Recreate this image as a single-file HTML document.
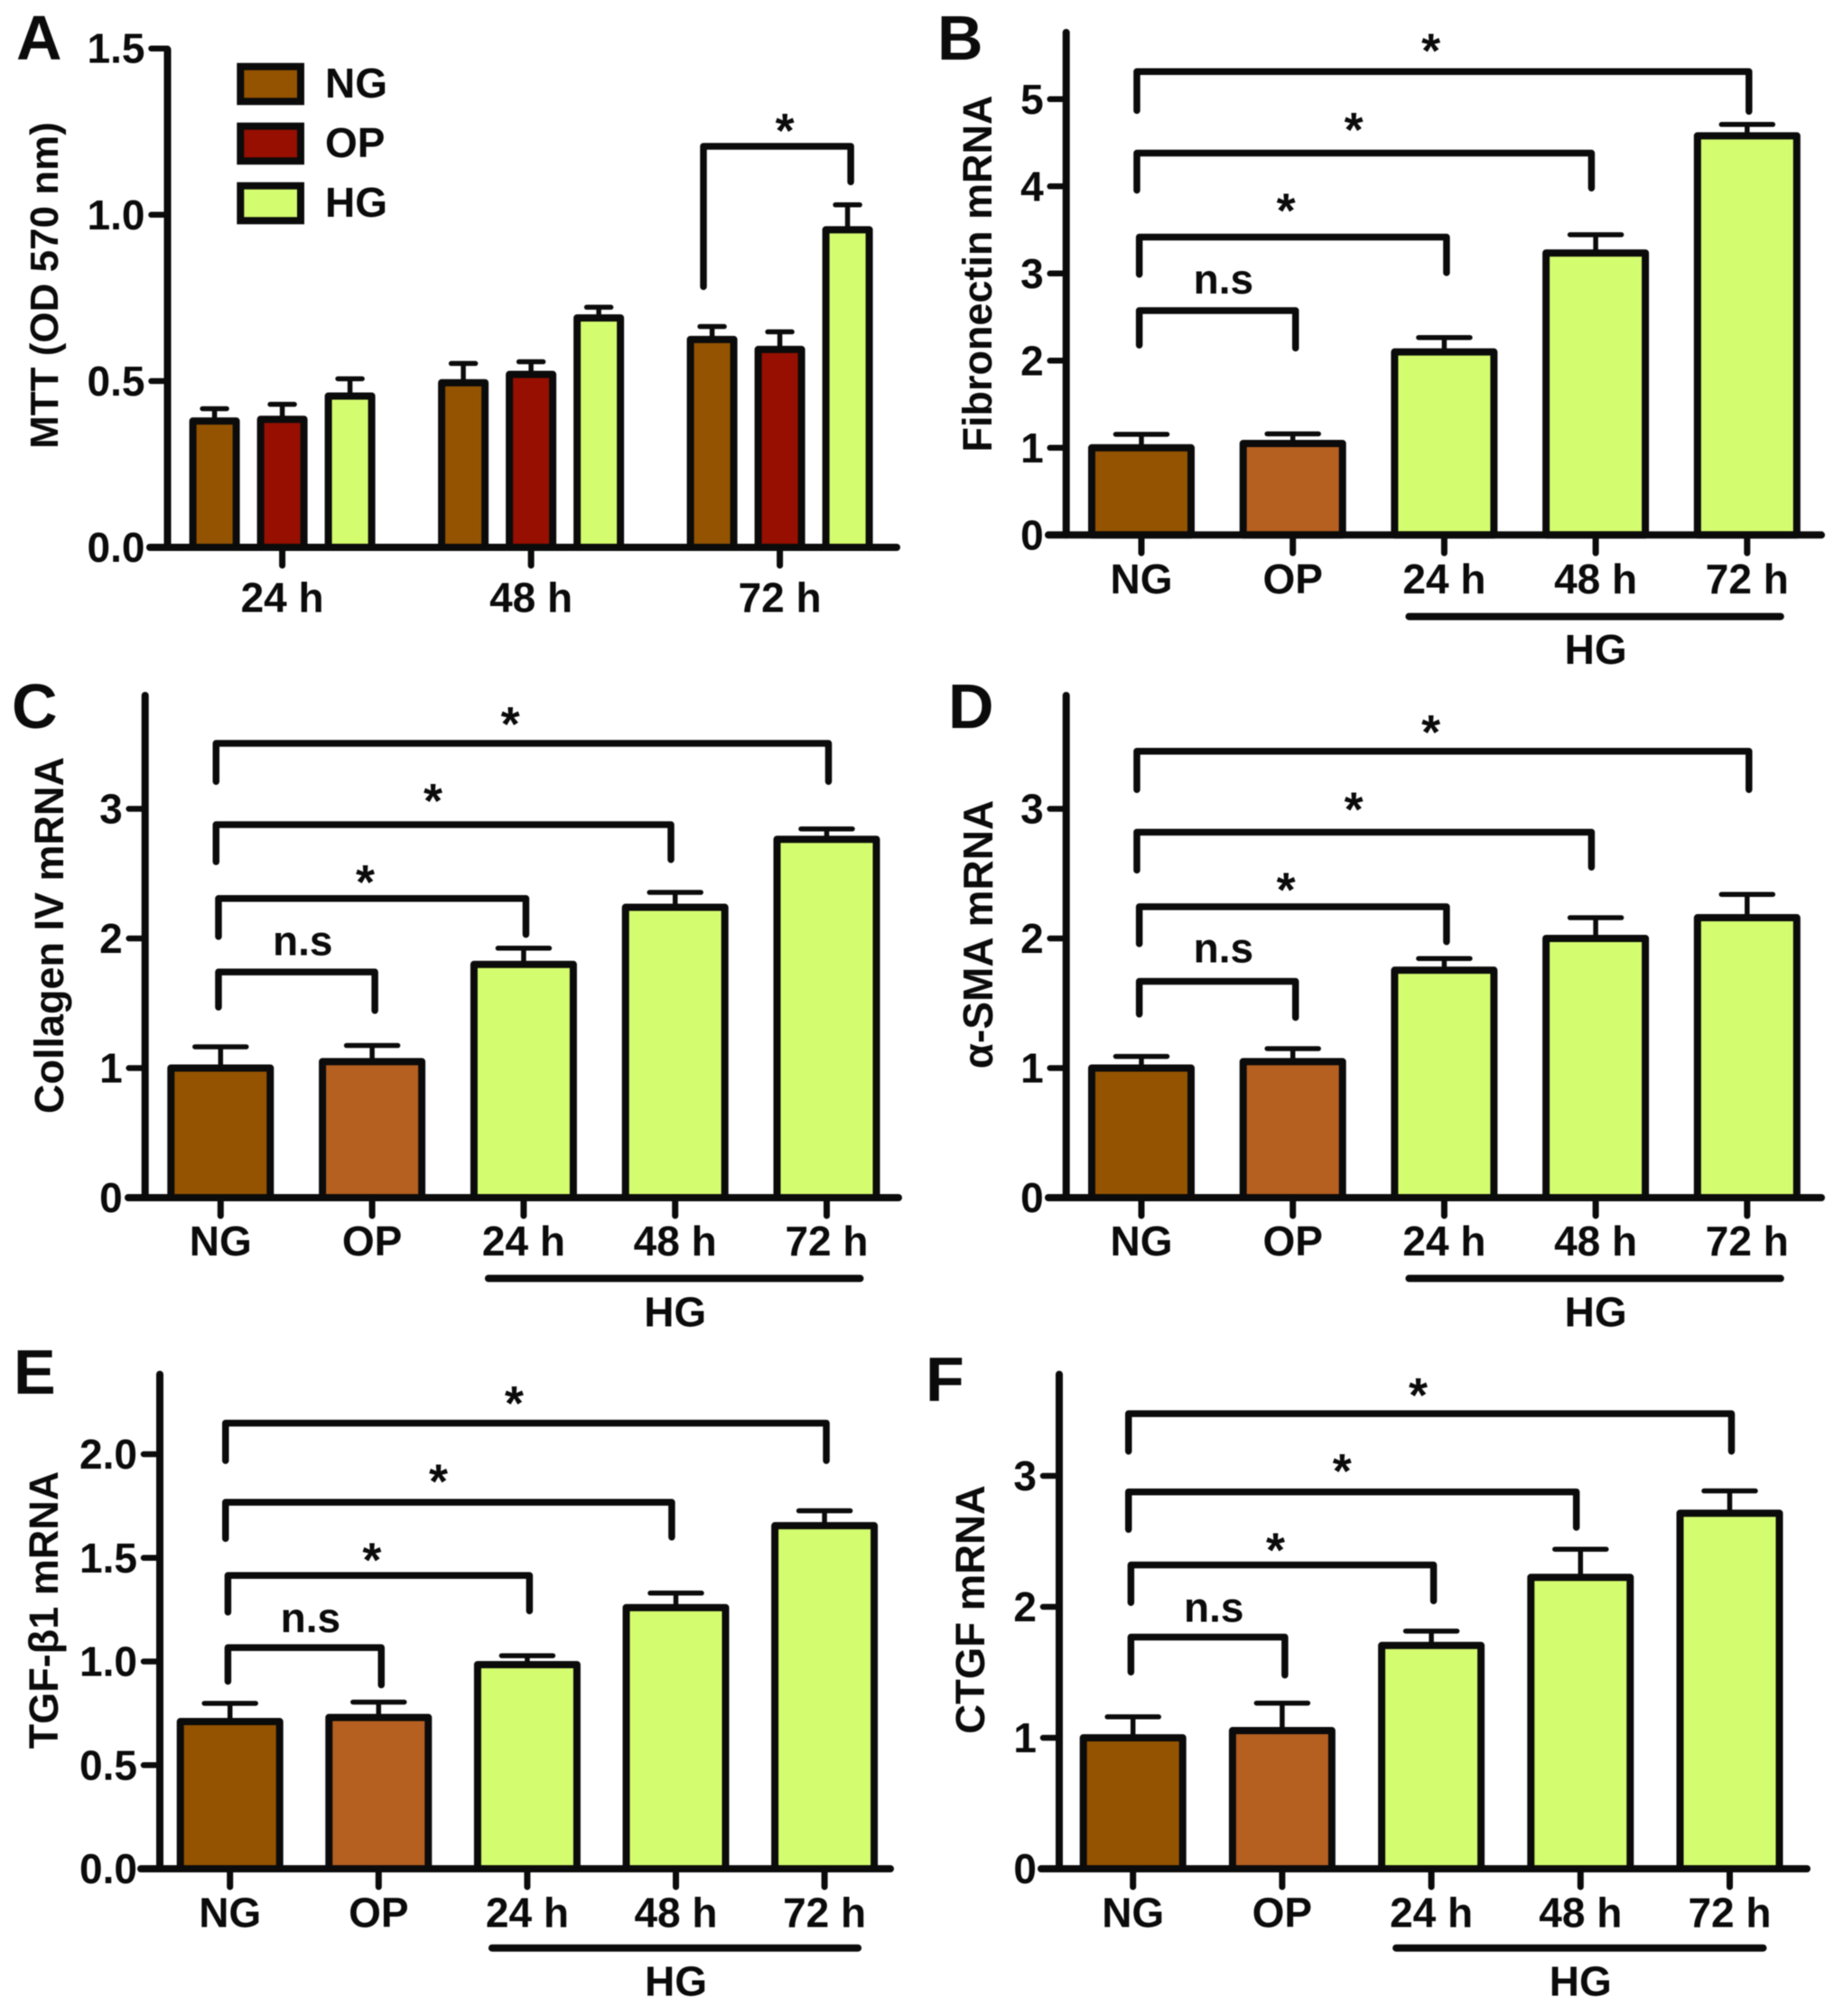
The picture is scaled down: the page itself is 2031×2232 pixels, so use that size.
<!DOCTYPE html>
<html lang="en">
<head>
<meta charset="utf-8">
<title>MTT and mRNA bar charts, panels A to F</title>
<style>
  html, body { margin: 0; padding: 0; background: #fff; }
  svg { display: block; font-family: "Liberation Sans", "Noto Sans CJK SC", sans-serif; font-weight: bold; filter: blur(0.6px); }
</style>
</head>
<body>
<svg id="figure" xmlns="http://www.w3.org/2000/svg" width="2031" height="2232" viewBox="0 0 2031 2232">
  <rect x="0" y="0" width="2031" height="2232" fill="#ffffff"/>
</svg>
<script>
// ---------- Shared category labels ----------
const groupLabelsA = ["24 h", "48 h", "72 h"];
const seriesLabelsA = ["NG", "OP", "HG"];
const categories = ["NG", "OP", "24 h", "48 h", "72 h"];

// ---------- Panel A ----------
const ticksA = ["0.0", "0.5", "1.0", "1.5"];
const ngA = [0.38, 0.495, 0.625];
const opA = [0.385, 0.52, 0.595];
const hgA = [0.455, 0.69, 0.955];
const ngErrA = [0.037, 0.058, 0.039];
const opErrA = [0.045, 0.038, 0.053];
const hgErrA = [0.052, 0.032, 0.075];

// ---------- Panel B ----------
const ticksB = ["0", "1", "2", "3", "4", "5"];
const valuesB = [1.0, 1.05, 2.1, 3.235, 4.58];
const errorsB = [0.155, 0.11, 0.165, 0.21, 0.13];
const levelsB = [5.316, 4.381, 3.417, 2.575];
const leftEndsB = [4.87, 3.955, 2.99, 2.178];
const rightEndsB = [4.86, 3.98, 3.01, 2.144];
const markLevelsB = [5.644, 4.738, 3.808, 2.912];

// ---------- Panel C ----------
const ticksC = ["0", "1", "2", "3"];
const valuesC = [1.0, 1.05, 1.8, 2.24, 2.765];
const errorsC = [0.164, 0.124, 0.125, 0.115, 0.08];
const levelsC = [3.505, 2.878, 2.308, 1.741];
const leftEndsC = [3.211, 2.592, 2.015, 1.47];
const rightEndsC = [3.211, 2.608, 2.031, 1.444];
const markLevelsC = [3.713, 3.119, 2.493, 1.965];

// ---------- Panel D ----------
const ticksD = ["0", "1", "2", "3"];
const valuesD = [1.0, 1.05, 1.755, 2.0, 2.16];
const errorsD = [0.09, 0.1, 0.09, 0.16, 0.18];
const levelsD = [3.444, 2.82, 2.245, 1.669];
const leftEndsD = [3.148, 2.527, 1.959, 1.416];
const rightEndsD = [3.148, 2.55, 1.975, 1.39];
const markLevelsD = [3.651, 3.053, 2.435, 1.909];

// ---------- Panel E ----------
const ticksE = ["0.0", "0.5", "1.0", "1.5", "2.0"];
const valuesE = [0.71, 0.73, 0.985, 1.26, 1.655];
const errorsE = [0.088, 0.074, 0.043, 0.07, 0.072];
const levelsE = [2.15, 1.768, 1.415, 1.067];
const leftEndsE = [1.969, 1.593, 1.238, 0.904];
const rightEndsE = [1.969, 1.6, 1.244, 0.887];
const markLevelsE = [2.282, 1.906, 1.526, 1.2];

// ---------- Panel F ----------
const ticksF = ["0", "1", "2", "3"];
const valuesF = [1.0, 1.055, 1.705, 2.225, 2.715];
const errorsF = [0.16, 0.21, 0.11, 0.215, 0.17];
const levelsF = [3.475, 2.878, 2.32, 1.769];
const leftEndsF = [3.188, 2.591, 2.033, 1.502];
const rightEndsF = [3.188, 2.607, 2.046, 1.479];
const markLevelsF = [3.673, 3.096, 2.492, 1.98];

// ---------- Shared bracket structure, in category units ----------
const bracketStarts = [-0.03, -0.03, -0.014, -0.014];
const bracketStops = [4.012, 2.972, 2.015, 1.018];
const bracketMarks = ["*", "*", "*", "n.s"];
const markPositions = [1.912, 1.402, 0.955, 0.542];

// ---------- Bracket for panel A, in group/value units ----------
const bracketA = [1.693, 2.285];
const bracketLevelA = [1.206];
const bracketEndsA = [0.784, 1.099];
const markA = [2.02, 1.276];

const COLORS = { ng: "#945300", opDark: "#960f00", op: "#b55f20", hg: "#d4fc6f", ink: "#0b0b0b" };
const svg = document.getElementById("figure");
const NS = "http://www.w3.org/2000/svg";
const TEXT_SIZE = 46;

function make(parent, tag, attrs, name, text) {
  const el = document.createElementNS(NS, tag);
  
  
  for (const k in attrs) el.setAttribute(k, attrs[k]);
  if (text !== undefined) el.textContent = text;
  parent.appendChild(el);
  return el;
}
function line(parent, x1, y1, x2, y2, w, name, cap) {
  return make(parent, "line", { x1, y1, x2, y2, stroke: COLORS.ink, "stroke-width": w, "stroke-linecap": cap || "butt" }, name);
}
function label(parent, x, y, str, size, anchor, name) {
  return make(parent, "text", { x, y, "font-size": size, "text-anchor": anchor, fill: COLORS.ink }, name, str);
}

function drawAxes(g, p, ticks, xs, catLabels) {
  const y = v => p.y0 - v * p.unit;
  line(g, p.axisX, p.y0, p.axisX, p.axisTop, 8, "y-axis-" + p.id, "round");
  line(g, p.xStart, p.y0, p.xEnd, p.y0, 8, "x-axis-" + p.id, "round");
  ticks.forEach(t => {
    const v = parseFloat(t);
    line(g, p.axisX - 18, y(v), p.axisX, y(v), 6.5, "y-tick-" + p.id + "-" + t, "round");
    label(g, p.axisX - 25, y(v) + 16, t, TEXT_SIZE, "end", "y-tick-label-" + p.id + "-" + t);
  });
  xs.forEach((x, i) => {
    line(g, x, p.y0, x, p.y0 + 20, 7, "x-tick-" + p.id + "-" + i, "round");
    label(g, x, p.y0 + p.labelDy, catLabels[i], TEXT_SIZE, "middle", "x-tick-label-" + p.id + "-" + i);
  });
  const title = label(g, p.titleX + 16, p.titleY, p.title, p.titleSize, "middle", "y-axis-title-" + p.id);
  title.setAttribute("transform", "rotate(-90 " + (p.titleX + 16) + " " + p.titleY + ")");
  label(g, p.letterX, p.letterY, p.id, 70, "start", "panel-letter-" + p.id);
}

function drawBar(g, cx, value, err, fill, w, capW, p, name) {
  const y = v => p.y0 - v * p.unit;
  line(g, cx, y(value), cx, y(value + err), 5.5, "error-stem-" + name);
  line(g, cx - capW / 2, y(value + err), cx + capW / 2, y(value + err), 5.5, "error-cap-" + name, "round");
  make(g, "rect", { x: cx - w / 2, y: y(value), width: w, height: p.y0 - y(value), fill, stroke: COLORS.ink, "stroke-width": 8, "stroke-linejoin": "round" }, "bar-" + name);
}

function bracketPath(g, xl, xr, yLevel, yl, yr, name) {
  const d = "M" + xl + " " + yl + " L" + xl + " " + yLevel + " L" + xr + " " + yLevel + " L" + xr + " " + yr;
  make(g, "path", { d, fill: "none", stroke: COLORS.ink, "stroke-width": 7.5, "stroke-linecap": "round", "stroke-linejoin": "round" }, name);
}

function drawMarker(g, x, y, str, name) {
  if (str === "*") label(g, x, y + 26.7, str, 54, "middle", name);
  else label(g, x, y + 13.5, str, TEXT_SIZE, "middle", name);
}

function drawFivePanel(p, ticks, values, errors, levels, leftEnds, rightEnds, markLevels) {
  const g = make(svg, "g", {}, "panel-" + p.id);
  const x = i => p.x0 + i * p.step;
  const y = v => p.y0 - v * p.unit;
  const fills = [COLORS.ng, COLORS.op, COLORS.hg, COLORS.hg, COLORS.hg];
  values.forEach((v, i) => drawBar(g, x(i), v, errors[i], fills[i], 110, 57, p, p.id + "-" + categories[i].replace(" ", "")));
  drawAxes(g, p, ticks, values.map((_, i) => x(i)), categories);
  levels.forEach((lv, i) => {
    bracketPath(g, x(bracketStarts[i]), x(bracketStops[i]), y(lv), y(leftEnds[i]), y(rightEnds[i]), "significance-bracket-" + p.id + "-" + i);
    drawMarker(g, x(markPositions[i]), y(markLevels[i]), bracketMarks[i], "significance-label-" + p.id + "-" + i);
  });
  line(g, x(2) - 39, p.y0 + p.hgLineDy, x(4) + 37, p.y0 + p.hgLineDy, 8, "hg-group-line-" + p.id, "round");
  label(g, x(3), p.y0 + p.hgDy, "HG", TEXT_SIZE, "middle", "hg-group-label-" + p.id);
}

// ---------- Panel A drawing ----------
(function () {
  const p = { id: "A", axisX: 185.5, y0: 606, unit: 368.2, axisTop: 55, xStart: 166, xEnd: 993, labelDy: 71.5, title: "MTT (OD 570 nm)", titleSize: 44, titleX: 48, titleY: 316, letterX: 18, letterY: 66 };
  const g = make(svg, "g", {}, "panel-A");
  const gx = i => 312.6 + i * 275.5;
  const y = v => p.y0 - v * p.unit;
  const off = 75;
  ngA.forEach((v, i) => drawBar(g, gx(i) - off, v, ngErrA[i], COLORS.ng, 48, 27, p, "A-NG-" + groupLabelsA[i].replace(" ", "")));
  opA.forEach((v, i) => drawBar(g, gx(i), v, opErrA[i], COLORS.opDark, 48, 27, p, "A-OP-" + groupLabelsA[i].replace(" ", "")));
  hgA.forEach((v, i) => drawBar(g, gx(i) + off, v, hgErrA[i], COLORS.hg, 48, 27, p, "A-HG-" + groupLabelsA[i].replace(" ", "")));
  drawAxes(g, p, ticksA, groupLabelsA.map((_, i) => gx(i)), groupLabelsA);
  bracketPath(g, gx(bracketA[0]), gx(bracketA[1]), y(bracketLevelA[0]), y(bracketEndsA[0]), y(bracketEndsA[1]), "significance-bracket-A");
  drawMarker(g, gx(markA[0]), y(markA[1]), "*", "significance-label-A");
  const legendFills = [COLORS.ng, COLORS.opDark, COLORS.hg];
  seriesLabelsA.forEach((s, i) => {
    const ly = 73.7 + i * 66;
    make(g, "rect", { x: 266.3, y: ly, width: 66.7, height: 38.6, fill: legendFills[i], stroke: COLORS.ink, "stroke-width": 8 }, "legend-swatch-" + s);
    label(g, 360, ly + 34.5, s, TEXT_SIZE, "start", "legend-label-" + s);
  });
})();

drawFivePanel(
  { id: "B", axisX: 1180.7, y0: 592.3, unit: 96.5, axisTop: 36, xStart: 1161, xEnd: 2017, x0: 1264, step: 167.7, labelDy: 64.7, hgLineDy: 90.3, hgDy: 142.8, title: "Fibronectin mRNA", titleSize: 45, titleX: 1082, titleY: 303, letterX: 1038, letterY: 66 },
  ticksB, valuesB, errorsB, levelsB, leftEndsB, rightEndsB, markLevelsB);
drawFivePanel(
  { id: "C", axisX: 160.7, y0: 1326, unit: 143.5, axisTop: 770, xStart: 142, xEnd: 995, x0: 244.3, step: 167.8, labelDy: 64, hgLineDy: 89.4, hgDy: 142.5, title: "Collagen IV mRNA", titleSize: 45, titleX: 54, titleY: 1035.5, letterX: 13, letterY: 806 },
  ticksC, valuesC, errorsC, levelsC, leftEndsC, rightEndsC, markLevelsC);
drawFivePanel(
  { id: "D", axisX: 1180.7, y0: 1326, unit: 143.5, axisTop: 770, xStart: 1161, xEnd: 2017, x0: 1264, step: 167.7, labelDy: 64, hgLineDy: 89.4, hgDy: 142.5, title: "\u03B1-SMA mRNA", titleSize: 46, titleX: 1083, titleY: 1034.5, letterX: 1050, letterY: 806 },
  ticksD, valuesD, errorsD, levelsD, leftEndsD, rightEndsD, markLevelsD);
drawFivePanel(
  { id: "E", axisX: 177, y0: 2069, unit: 229.5, axisTop: 1521.6, xStart: 156, xEnd: 986, x0: 254.7, step: 164.6, labelDy: 64.5, hgLineDy: 87.7, hgDy: 140.5, title: "TGF-\u03B21 mRNA", titleSize: 45, titleX: 48, titleY: 1782.5, letterX: 15, letterY: 1543 },
  ticksE, valuesE, errorsE, levelsE, leftEndsE, rightEndsE, markLevelsE);
drawFivePanel(
  { id: "F", axisX: 1173, y0: 2069, unit: 145, axisTop: 1521.6, xStart: 1153, xEnd: 2001, x0: 1254.7, step: 165.2, labelDy: 64.5, hgLineDy: 87.7, hgDy: 140.5, title: "CTGF mRNA", titleSize: 45.5, titleX: 1074, titleY: 1782, letterX: 1025, letterY: 1551 },
  ticksF, valuesF, errorsF, levelsF, leftEndsF, rightEndsF, markLevelsF);
</script>
</body>
</html>
